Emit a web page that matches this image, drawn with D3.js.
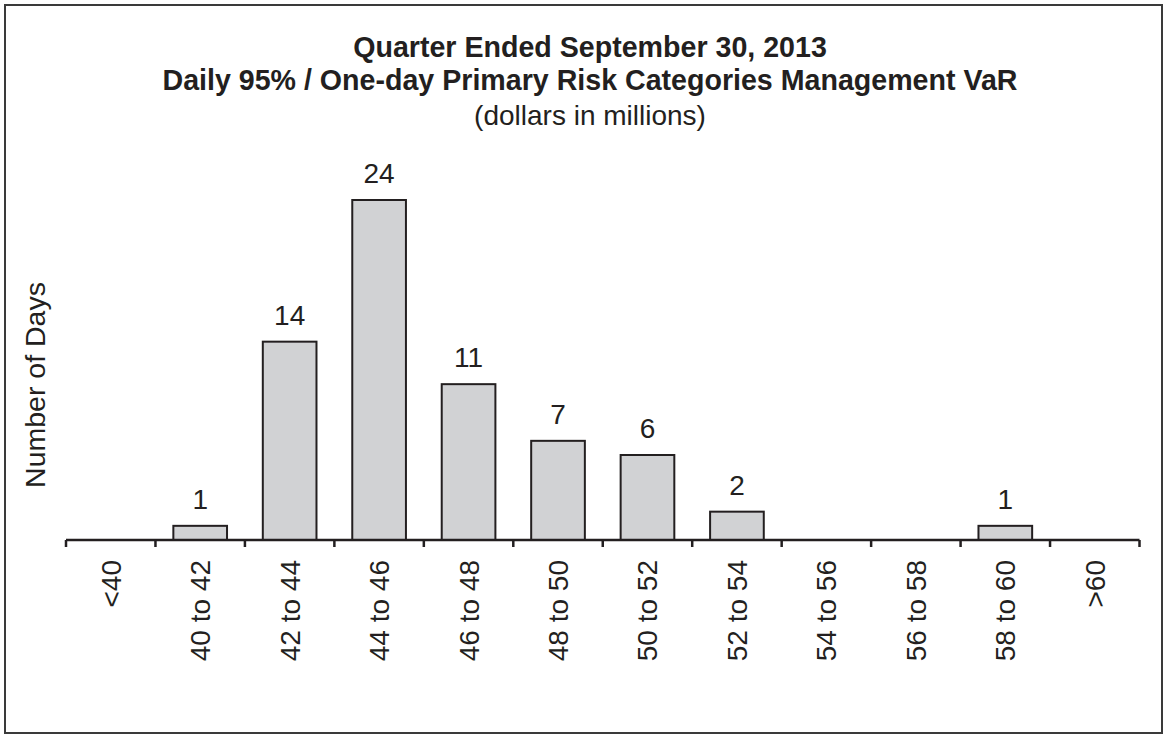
<!DOCTYPE html>
<html><head><meta charset="utf-8">
<script src="https://cdn.jsdelivr.net/npm/d3@7/dist/d3.min.js"></script>
<style>body{margin:0;background:#fff}svg{display:block}text{font-family:"Liberation Sans",Arial,sans-serif;fill:#231f20}</style>
</head><body>
<svg id="c" width="1167" height="738"></svg>
<script>
const categories = ["<40","40 to 42","42 to 44","44 to 46","46 to 48","48 to 50","50 to 52","52 to 54","54 to 56","56 to 58","58 to 60",">60"];
const days = [0,1,14,24,11,7,6,2,0,0,1,0];
const titleLines = ["Quarter Ended September 30, 2013","Daily 95% / One-day Primary Risk Categories Management VaR"];
const subtitle = "(dollars in millions)";
const yLabel = "Number of Days";

const svg = d3.select("#c");
svg.append("rect").attr("x",5).attr("y",5).attr("width",1157).attr("height",728)
  .attr("fill","none").attr("stroke","#3a3a3a").attr("stroke-width",2);

const x = d3.scaleBand().domain(categories).range([66,1139.5]).paddingInner(0.4).paddingOuter(0.2);
const xb = d3.scaleBand().domain(categories).range([66,1139.5]);
const y = d3.scaleLinear().domain([0,24]).range([540,200]);

const data = days.map((v,i)=>({c:categories[i],v}));
svg.selectAll("rect.bar").data(data.filter(d=>d.v>0)).enter()
  .append("rect").attr("class","bar")
  .attr("x",d=>x(d.c)).attr("width",x.bandwidth())
  .attr("y",d=>y(d.v)).attr("height",d=>y(0)-y(d.v))
  .attr("fill","#d1d2d4").attr("stroke","#231f20").attr("stroke-width",2);

svg.selectAll("text.val").data(data.filter(d=>d.v>0)).enter()
  .append("text").attr("class","val")
  .attr("x",d=>x(d.c)+x.bandwidth()/2).attr("y",d=>y(d.v)-17)
  .attr("text-anchor","middle").attr("font-size",28).text(d=>d.v);

// axis
const g = svg.append("g");
g.append("line").attr("x1",66).attr("x2",1139.5).attr("y1",540).attr("y2",540)
  .attr("stroke","#231f20").attr("stroke-width",2.5);
const edges = categories.map(c=>xb(c)).concat([1139.5]);
g.selectAll("line.tick").data(edges).enter().append("line")
  .attr("x1",d=>d).attr("x2",d=>d).attr("y1",540).attr("y2",547)
  .attr("stroke","#231f20").attr("stroke-width",2.5);
g.selectAll("text.cat").data(categories).enter().append("text")
  .attr("transform",d=>`translate(${xb(d)+xb.bandwidth()/2+10},560) rotate(-90)`)
  .attr("text-anchor","end").attr("font-size",28).text(d=>d);

svg.append("text").attr("transform","translate(45,385) rotate(-90)")
  .attr("text-anchor","middle").attr("font-size",28.5).text(yLabel);

svg.append("text").attr("x",590).attr("y",57).attr("text-anchor","middle")
  .attr("font-size",28.6).attr("font-weight","bold").text(titleLines[0]);
svg.append("text").attr("x",590).attr("y",90).attr("text-anchor","middle")
  .attr("font-size",28.6).attr("font-weight","bold").text(titleLines[1]);
svg.append("text").attr("x",590).attr("y",125).attr("text-anchor","middle")
  .attr("font-size",28).text(subtitle);
</script>
</body></html>
